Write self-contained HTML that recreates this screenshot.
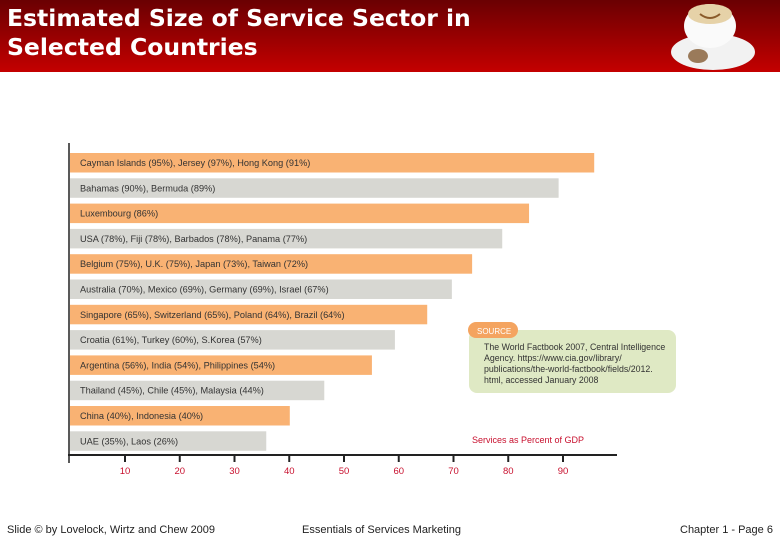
<!DOCTYPE html>
<html><head><meta charset="utf-8"><style>
body{margin:0;width:780px;height:540px;overflow:hidden;background:#fff;font-family:"Liberation Sans",sans-serif;position:relative}
#hdr{position:absolute;left:0;top:0;width:780px;height:72px;background:linear-gradient(#6a0002,#c40000)}
#title{position:absolute;left:7px;top:4px;color:#fff;font-weight:bold;font-size:23.5px;line-height:29px;font-family:"DejaVu Sans","Liberation Sans",sans-serif}
.foot{position:absolute;top:524px;font-size:11px;color:#222}
</style></head><body>
<div id="hdr"></div>
<div id="title">Estimated Size of Service Sector in<br>Selected Countries</div>
<svg style="position:absolute;left:668px;top:0" width="112" height="72">
<ellipse cx="45" cy="52" rx="42" ry="18" fill="#f2f2f2"/>
<ellipse cx="42" cy="26" rx="26" ry="22" fill="#fafafa"/>
<ellipse cx="42" cy="14" rx="22" ry="10" fill="#e6d2a8"/>
<path d="M32 14 Q42 22 52 14" stroke="#8a5a2a" fill="none" stroke-width="2"/>
<ellipse cx="30" cy="56" rx="10" ry="7" fill="#9a7a5a"/>
</svg>
<svg style="position:absolute;left:0;top:0" width="780" height="540" id="chart"></svg>
<div class="foot" style="left:7px">Slide © by Lovelock, Wirtz and Chew 2009</div>
<div class="foot" style="left:302px">Essentials of Services Marketing</div>
<div class="foot" style="left:680px">Chapter 1 - Page 6</div>
<script>
const labels=["Cayman Islands (95%), Jersey (97%), Hong Kong (91%)","Bahamas (90%), Bermuda (89%)","Luxembourg (86%)","USA (78%), Fiji (78%), Barbados (78%), Panama (77%)","Belgium (75%), U.K. (75%), Japan (73%), Taiwan (72%)","Australia (70%), Mexico (69%), Germany (69%), Israel (67%)","Singapore (65%), Switzerland (65%), Poland (64%), Brazil (64%)","Croatia (61%), Turkey (60%), S.Korea (57%)","Argentina (56%), India (54%), Philippines (54%)","Thailand (45%), Chile (45%), Malaysia (44%)","China (40%), Indonesia (40%)","UAE (35%), Laos (26%)"];
const values=[95.7,89.2,83.8,78.9,73.4,69.7,65.2,59.3,55.1,46.4,40.1,35.8];
const ticks=[10,20,30,40,50,60,70,80,90];
const NS="http://www.w3.org/2000/svg",svg=document.getElementById('chart');
const x=v=>70.25+v*5.475, y=i=>153+i*25.3;
function mk(t,a){const e=document.createElementNS(NS,t);for(const k in a)e.setAttribute(k,a[k]);svg.appendChild(e);return e;}
values.forEach((v,i)=>{
 const r=mk('rect',{x:70,y:y(i),width:x(v)-70,height:19.5,fill:i%2?'#d7d7d2':'#f9b273'});
 
 
 const t=mk('text',{x:80,y:y(i)+13,'font-size':9.2,fill:'#333'});t.textContent=labels[i];
 
 
});
const ax=mk('line',{x1:68,y1:455,x2:617,y2:455,stroke:'#222','stroke-width':2});


const ay=mk('line',{x1:69,y1:143,x2:69,y2:463,stroke:'#222','stroke-width':1.5});


ticks.forEach(v=>{
 const l=mk('line',{x1:x(v),y1:455,x2:x(v),y2:462,stroke:'#222','stroke-width':2});
 
 
 const t=mk('text',{x:x(v),y:474,'font-size':9.5,fill:'#c8102e','text-anchor':'middle'});t.textContent=v;
 
 
});
const at=mk('text',{x:472,y:443,'font-size':9,fill:'#c8102e'});at.textContent='Services as Percent of GDP';


const sb=mk('rect',{x:469,y:330,width:207,height:63,rx:8,fill:'#dfe9c4'});


const sp=mk('rect',{x:468,y:322,width:50,height:16,rx:8,fill:'#f4a460'});


const st=mk('text',{x:477,y:334,'font-size':8,fill:'#fff'});st.textContent='SOURCE';


["The World Factbook 2007, Central Intelligence","Agency. https://www.cia.gov/library/","publications/the-world-factbook/fields/2012.","html, accessed January 2008"].forEach((s,i)=>{
 const t=mk('text',{x:484,y:350+i*11,'font-size':8.8,fill:'#333'});t.textContent=s;
 
 
});
</script>
</body></html>
